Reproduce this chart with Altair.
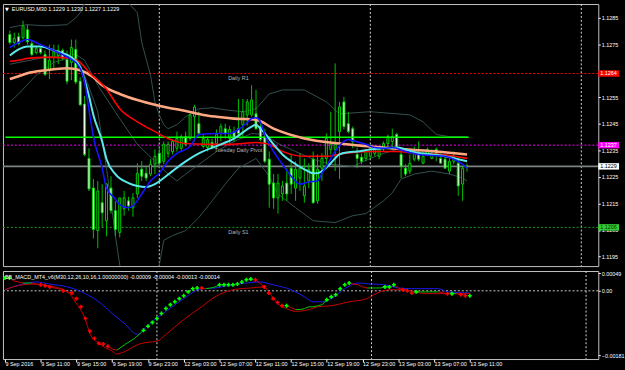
import json
import altair as alt
import pandas as pd

# ---------------- data ----------------
# EURUSD M30 candles, bar 0 = 9 Sep 2016 07:00, bar 104 = 13 Sep 2016 11:00
bar_open = [1.12787,1.12757,1.12779,1.12775,1.12805,1.12753,1.12719,1.12734,1.12712,1.12652,
            1.12701,1.12708,1.12727,1.12693,1.12682,1.12731,1.12611,1.12525,1.12320,1.12208,
            1.12048,1.12153,1.12085,1.12208,1.12123,1.12041,1.12130,1.12160,1.12134,1.12186,
            1.12279,1.12264,1.12261,1.12298,1.12339,1.12309,1.12339,1.12346,1.12358,1.12358,
            1.12402,1.12395,1.12477,1.12451,1.12365,1.12361,1.12380,1.12376,1.12414,1.12432,
            1.12395,1.12421,1.12432,1.12447,1.12484,1.12484,1.12488,1.12440,1.12402,1.12317,
            1.12227,1.12171,1.12186,1.12227,1.12283,1.12208,1.12246,1.12179,1.12235,1.12317,
            1.12160,1.12283,1.12320,1.12354,1.12354,1.12421,1.12533,1.12451,1.12432,1.12335,
            1.12324,1.12320,1.12328,1.12339,1.12328,1.12358,1.12376,1.12384,1.12410,1.12335,
            1.12283,1.12272,1.12317,1.12335,1.12302,1.12335,1.12320,1.12354,1.12320,1.12317,
            1.12272,1.12309,1.12302,1.12223,1.12290]
bar_high = [1.12802,1.12794,1.12794,1.12839,1.12824,1.12764,1.12746,1.12742,1.12727,1.12749,
            1.12749,1.12749,1.12734,1.12727,1.12768,1.12768,1.12626,1.12555,1.12358,1.12242,
            1.12235,1.12223,1.12227,1.12253,1.12160,1.12171,1.12197,1.12175,1.12190,1.12302,
            1.12309,1.12287,1.12317,1.12354,1.12365,1.12384,1.12384,1.12391,1.12421,1.12410,
            1.12421,1.12488,1.12522,1.12496,1.12410,1.12402,1.12395,1.12429,1.12451,1.12451,
            1.12443,1.12440,1.12544,1.12544,1.12544,1.12596,1.12578,1.12458,1.12432,1.12346,
            1.12261,1.12261,1.12235,1.12283,1.12335,1.12309,1.12339,1.12320,1.12302,1.12346,
            1.12335,1.12339,1.12414,1.12496,1.12678,1.12533,1.12552,1.12496,1.12440,1.12361,
            1.12339,1.12354,1.12373,1.12365,1.12361,1.12384,1.12410,1.12432,1.12417,1.12346,
            1.12298,1.12335,1.12365,1.12384,1.12346,1.12361,1.12354,1.12361,1.12339,1.12335,
            1.12320,1.12346,1.12320,1.12290,1.12300]
bar_low = [1.12749,1.12738,1.12746,1.12768,1.12749,1.12705,1.12712,1.12712,1.12630,1.12619,
           1.12660,1.12675,1.12690,1.12600,1.12615,1.12600,1.12518,1.12328,1.12197,1.12018,
           1.11981,1.12059,1.12026,1.12112,1.12026,1.12022,1.12104,1.12123,1.12100,1.12171,
           1.12235,1.12235,1.12253,1.12261,1.12283,1.12298,1.12324,1.12335,1.12346,1.12346,
           1.12365,1.12387,1.12384,1.12406,1.12358,1.12346,1.12354,1.12358,1.12384,1.12395,
           1.12376,1.12384,1.12406,1.12395,1.12443,1.12477,1.12429,1.12384,1.12302,1.12134,
           1.12130,1.12112,1.12160,1.12160,1.12186,1.12160,1.12197,1.12153,1.12208,1.12149,
           1.12149,1.12235,1.12279,1.12335,1.12272,1.12242,1.12429,1.12414,1.12358,1.12283,
           1.12298,1.12309,1.12317,1.12328,1.12317,1.12346,1.12358,1.12354,1.12358,1.12246,
           1.12253,1.12261,1.12309,1.12309,1.12298,1.12328,1.12317,1.12309,1.12302,1.12283,
           1.12261,1.12298,1.12179,1.12160,1.12270]
bar_close = [1.12757,1.12772,1.12753,1.12820,1.12760,1.12712,1.12734,1.12719,1.12637,1.12690,
             1.12723,1.12727,1.12697,1.12611,1.12738,1.12608,1.12522,1.12335,1.12205,1.12052,
             1.12197,1.12115,1.12223,1.12123,1.12052,1.12171,1.12171,1.12141,1.12171,1.12264,
             1.12253,1.12246,1.12298,1.12328,1.12302,1.12373,1.12373,1.12384,1.12395,1.12402,
             1.12373,1.12484,1.12514,1.12414,1.12395,1.12391,1.12361,1.12410,1.12440,1.12414,
             1.12429,1.12395,1.12414,1.12496,1.12533,1.12540,1.12432,1.12391,1.12309,1.12223,
             1.12171,1.12227,1.12216,1.12186,1.12223,1.12279,1.12283,1.12216,1.12279,1.12153,
             1.12279,1.12320,1.12395,1.12373,1.12373,1.12514,1.12440,1.12421,1.12384,1.12320,
             1.12309,1.12346,1.12358,1.12358,1.12354,1.12376,1.12402,1.12402,1.12365,1.12290,
             1.12261,1.12302,1.12339,1.12317,1.12328,1.12354,1.12335,1.12339,1.12302,1.12283,
             1.12309,1.12328,1.12216,1.12283,1.12290]

# moving averages (bar index, price)
blue_i = [0,2,4,7,10,14,15,17,18,19,21,22,24,25,27,28,30,32,34,36,38,41,43,47,50,52,54,55,56,57,
          58,60,62,64,66,68,70,71,72,74,76,77,78,81,83,85,87,90,93,96,99,101,103,104]
blue_v = [1.12738,1.12757,1.12768,1.12749,1.12727,1.12693,1.12682,1.12608,1.12503,1.12402,
          1.12283,1.12208,1.12167,1.12145,1.12134,1.12141,1.12186,1.12235,1.12264,1.12309,
          1.12339,1.12365,1.12410,1.12414,1.12414,1.12429,1.12455,1.12470,1.12473,1.12458,
          1.12410,1.12346,1.12298,1.12253,1.12223,1.12231,1.12235,1.12264,1.12290,1.12346,
          1.12384,1.12391,1.12387,1.12373,1.12361,1.12358,1.12361,1.12346,1.12335,1.12331,
          1.12328,1.12317,1.12298,1.12283]
cyan_i = [0,2,4,7,10,14,16,17,18,19,21,22,24,27,29,31,33,35,37,40,43,48,51,55,56,57,58,60,62,64,
          67,69,70,71,73,75,77,79,82,85,88,90,92,96,99,102,104]
cyan_v = [1.12708,1.12731,1.12742,1.12742,1.12727,1.12701,1.12664,1.12615,1.12555,1.12484,
          1.12384,1.12317,1.12261,1.12227,1.12216,1.12212,1.12223,1.12246,1.12272,1.12309,
          1.12339,1.12373,1.12395,1.12440,1.12447,1.12432,1.12414,1.12373,1.12335,1.12309,
          1.12279,1.12264,1.12264,1.12272,1.12302,1.12335,1.12343,1.12346,1.12354,1.12358,
          1.12361,1.12354,1.12343,1.12335,1.12328,1.12317,1.12309]
red_i = [0,2,4,8,10,14,16,18,22,25,29,33,36,40,45,50,53,56,59,61,67,72,76,82,88,92,98,104]
red_v = [1.12686,1.12690,1.12697,1.12701,1.12701,1.12697,1.12682,1.12645,1.12581,1.12507,
         1.12458,1.12421,1.12395,1.12376,1.12373,1.12373,1.12376,1.12380,1.12373,1.12354,
         1.12328,1.12328,1.12339,1.12346,1.12346,1.12339,1.12335,1.12320]
peach_i = [0,2,4,8,13,16,19,21,25,29,33,36,40,44,47,51,56,60,67,75,82,90,97,104]
peach_v = [1.12619,1.12630,1.12641,1.12652,1.12660,1.12652,1.12626,1.12596,1.12563,1.12540,
           1.12522,1.12511,1.12499,1.12484,1.12477,1.12470,1.12466,1.12432,1.12395,1.12376,
           1.12365,1.12354,1.12346,1.12335]

# Bollinger bands on price
bb_up_i = [0,2,4,8,13,15,16,17,19,23,26,27,29,30,32,33,34,35,36,38,40,43,46,49,53,56,59,62,67,72,
           74,75,82,88,91,94,97,100,104]
bb_up_v = [1.12813,1.12820,1.12824,1.12820,1.12824,1.12850,1.12869,1.12906,1.12962,1.13018,
           1.12943,1.12906,1.12869,1.12757,1.12634,1.12533,1.12484,1.12447,1.12432,1.12447,
           1.12477,1.12507,1.12511,1.12503,1.12496,1.12507,1.12563,1.12578,1.12578,1.12533,
           1.12503,1.12488,1.12496,1.12488,1.12484,1.12458,1.12410,1.12402,1.12402]
bb_mid_i = [0,8,15,17,20,25,29,33,36,38,40,44,47,51,55,58,61,65,69,73,78,82,85,89,92,97,104]
bb_mid_v = [1.12675,1.12701,1.12712,1.12690,1.12596,1.12470,1.12373,1.12309,1.12261,1.12235,
            1.12261,1.12309,1.12346,1.12384,1.12414,1.12410,1.12376,1.12346,1.12317,1.12298,
            1.12290,1.12320,1.12339,1.12358,1.12346,1.12339,1.12320]
bb_lo_i = [0,2,6,10,14,16,18,20,22,23,24,25,28,31,34,35,37,40,43,46,49,52,56,59,61,65,69,74,78,81,
           85,87,89,92,96,100,103,104]
bb_lo_v = [1.12533,1.12563,1.12634,1.12682,1.12701,1.12675,1.12589,1.12496,1.12283,1.12160,
           1.12029,1.11918,1.11787,1.11787,1.11918,1.12011,1.12029,1.12048,1.12097,1.12160,
           1.12223,1.12283,1.12320,1.12253,1.12186,1.12134,1.12085,1.12078,1.12104,1.12112,
           1.12160,1.12190,1.12242,1.12261,1.12272,1.12261,1.12246,1.12235]

# levels
level_names = ["Daily R1", "Tuesday  Daily Pivot", "Daily S1"]
level_prices = [1.1264, 1.1237, 1.1206]
level_label_bar = 52
bid_price = 1.1229
hline_price = 1.1240
hline_bars = [-1, 104.4]
sep_bars = [34, 82, 130]

tag_prices = [1.1264, 1.1237, 1.1229, 1.1206]
tag_texts = ["1.1264", "1.1237", "1.1229", "1.1206"]

price_ticks = [1.1285, 1.1275, 1.1255, 1.1245, 1.1235, 1.1225, 1.1215, 1.1205, 1.1195]
time_label_bars = [0, 8, 16, 24, 32, 40, 48, 56, 64, 72, 80, 88, 96, 104]
time_labels = ["9 Sep 2016", "9 Sep 11:00", "9 Sep 15:00", "9 Sep 19:00", "9 Sep 23:00",
               "12 Sep 03:00", "12 Sep 07:00", "12 Sep 11:00", "12 Sep 15:00", "12 Sep 19:00",
               "12 Sep 23:00", "13 Sep 03:00", "13 Sep 07:00", "13 Sep 11:00"]

main_title = "EURUSD,M30  1.1229 1.1230 1.1227 1.1229"
sub_title = "BB_MACD_MT4_v6(M30,12,26,10,16,1.00000000) -0.00009 -0.00004 -0.00013 -0.00014"

# BB_MACD indicator
macd_v = [0.00036,0.00036,0.00028,0.00025,0.00022,0.00022,0.00022,0.00019,0.00017,0.00014,
          0.00011,0.00008,0.00006,0.00000,-0.00003,-0.00006,-0.00022,-0.00045,-0.00078,-0.00114,
          -0.00134,-0.00148,-0.00150,-0.00156,-0.00164,-0.00167,-0.00159,-0.00150,-0.00142,-0.00134,
          -0.00123,-0.00111,-0.00100,-0.00089,-0.00078,-0.00064,-0.00050,-0.00039,-0.00031,-0.00022,
          -0.00014,-0.00003,0.00006,0.00008,0.00008,0.00006,0.00008,0.00011,0.00017,0.00017,
          0.00017,0.00017,0.00019,0.00025,0.00031,0.00033,0.00031,0.00022,0.00011,-0.00006,
          -0.00022,-0.00033,-0.00042,-0.00042,-0.00047,-0.00053,-0.00053,-0.00050,-0.00045,-0.00045,
          -0.00042,-0.00039,-0.00025,-0.00017,-0.00011,0.00006,0.00017,0.00022,0.00019,0.00017,
          0.00011,0.00008,0.00008,0.00008,0.00008,0.00011,0.00011,0.00017,0.00008,0.00003,
          0.00000,-0.00006,-0.00003,-0.00003,-0.00003,-0.00003,-0.00003,-0.00003,-0.00006,-0.00008,
          -0.00008,-0.00008,-0.00011,-0.00014,-0.00014]
macd_mark = ("gg......rr" "r..r.rrrrr" "rrrr......" ".ggggggggg" "ggggr...gg"
             "ggggggr.rr" "rrrg......" "..gggggg.." ".....ggg.r" "rrg......r" "g.rrg")
bbu_i = [0,4,7,10,14,18,21,24,27,29,30,31,33,36,40,44,47,51,54,57,60,64,67,69,71,73,76,79,82,85,
         88,91,97,99,104]
bbu_v = [0.00003,0.00019,0.00025,0.00019,0.00011,-0.00008,-0.00031,-0.00064,-0.00095,-0.00120,
         -0.00123,-0.00109,-0.00086,-0.00058,-0.00022,0.00006,0.00008,0.00017,0.00022,0.00025,
         0.00017,0.00003,-0.00017,-0.00031,-0.00031,-0.00022,0.00006,0.00022,0.00019,0.00017,
         0.00008,0.00006,0.00006,-0.00003,-0.00006]
bbl_i = [0,4,7,10,14,16,18,19,21,24,25,27,30,32,34,36,40,44,47,51,55,58,59,61,63,65,68,70,73,77,
         81,83,86,89,94,99,104]
bbl_v = [0.00003,0.00017,0.00019,0.00014,-0.00003,-0.00036,-0.00081,-0.00120,-0.00148,-0.00170,
         -0.00178,-0.00170,-0.00150,-0.00145,-0.00142,-0.00123,-0.00081,-0.00045,-0.00017,0.00003,
         0.00008,0.00011,-0.00003,-0.00036,-0.00050,-0.00058,-0.00053,-0.00045,-0.00042,-0.00031,
         -0.00022,-0.00008,0.00003,0.00003,-0.00008,-0.00008,-0.00008]
macd_ticks = [0.00049, 0.0, -0.00181]

# ---------------- styling / scales ----------------
FONT = "Liberation Sans"
FS = 5.5
W, H_MAIN, H_SUB = 602, 265, 89
X_SCALE = alt.Scale(domain=[-0.442, 132.74], nice=False, zero=False)
P_SCALE = alt.Scale(domain=[1.11914, 1.12902], nice=False, zero=False)
M_SCALE = alt.Scale(domain=[-0.001922, 0.000557], nice=False, zero=False)

P_AXIS = alt.Axis(orient="right", values=price_ticks, format=".4f", title=None, grid=False,
                  domain=False, tickSize=2, tickColor="#ffffff", labelColor="#ffffff",
                  labelFont=FONT, labelFontSize=FS, labelPadding=1)
M_AXIS = alt.Axis(orient="right", values=macd_ticks, title=None, grid=False, domain=False,
                  labelExpr="datum.value == 0 ? '0.00' : format(datum.value, '.5f')",
                  tickSize=2, tickColor="#ffffff", labelColor="#ffffff",
                  labelFont=FONT, labelFontSize=FS, labelPadding=1)
T_AXIS = alt.Axis(values=time_label_bars, title=None, grid=False, domain=False,
                  labelExpr=json.dumps(time_labels) + "[round(datum.value / 8)]",
                  labelAlign="left", labelBaseline="top", labelPadding=0, tickSize=3,
                  tickColor="#ffffff", labelColor="#ffffff", labelFont=FONT,
                  labelFontSize=FS, labelOverlap=False, labelFlush=False, labelBound=False)


def XM(field="i"):
    return alt.X(f"{field}:Q", scale=X_SCALE, axis=None)


def XS(field="i"):
    return alt.X(f"{field}:Q", scale=X_SCALE, axis=T_AXIS)


def PY(field):
    return alt.Y(f"{field}:Q", scale=P_SCALE, axis=P_AXIS)


def MY(field):
    return alt.Y(f"{field}:Q", scale=M_SCALE, axis=M_AXIS)


candles = pd.DataFrame({"i": list(range(len(bar_open))), "open": bar_open, "high": bar_high,
                        "low": bar_low, "close": bar_close})


def line_df(ii, vv):
    return pd.DataFrame({"i": ii, "v": vv})


# ---------------- main panel ----------------
seps = alt.Chart(pd.DataFrame({"i": sep_bars})).mark_rule(
    color="#d8d8d8", strokeDash=[2, 2], strokeWidth=1, clip=True).encode(x=XM())

lv = pd.DataFrame({"name": level_names, "p": level_prices, "i": [level_label_bar] * 3})
level_colors = ["#ff0000", "#ff00ff", "#1e9a1e"]
level_rules = [
    alt.Chart(lv.iloc[[k]]).mark_rule(color=col, strokeDash=[2, 2], strokeWidth=1).encode(y=PY("p"))
    for k, col in enumerate(level_colors)
]
bid = alt.Chart(pd.DataFrame({"p": [bid_price]})).mark_rule(
    color="#7c8484", strokeWidth=1.6).encode(y=PY("p"))

bb_layers = [
    alt.Chart(line_df(a, b)).mark_line(color="#35504f", strokeWidth=1, clip=True).encode(
        x=XM(), y=PY("v"))
    for a, b in [(bb_up_i, bb_up_v), (bb_mid_i, bb_mid_v), (bb_lo_i, bb_lo_v)]
]

wicks = alt.Chart(candles).mark_rule(color="#00c000", strokeWidth=1, clip=True).encode(
    x=XM(), y=PY("low"), y2="high:Q")
bodies = alt.Chart(candles).mark_bar(size=2, stroke="#00d000", strokeWidth=1, clip=True).encode(
    x=XM(), y=PY("open"), y2="close:Q",
    fill=alt.condition("datum.close >= datum.open", alt.value("#000000"), alt.value("#ffffff")))

hline = alt.Chart(pd.DataFrame({"i": [hline_bars[0]], "i2": [hline_bars[1]], "p": [hline_price]})).mark_rule(
    color="#00ff00", strokeWidth=1.5, clip=True).encode(x=XM(), x2="i2:Q", y=PY("p"))

peach = alt.Chart(line_df(peach_i, peach_v)).mark_line(color="#ffa882", strokeWidth=2.6, clip=True,
                                                       interpolate="monotone").encode(x=XM(), y=PY("v"))
red = alt.Chart(line_df(red_i, red_v)).mark_line(color="#ff0000", strokeWidth=1.6, clip=True,
                                                 interpolate="monotone").encode(x=XM(), y=PY("v"))
cyan = alt.Chart(line_df(cyan_i, cyan_v)).mark_line(color="#5ce8e8", strokeWidth=2, clip=True,
                                                    interpolate="monotone").encode(x=XM(), y=PY("v"))
blue = alt.Chart(line_df(blue_i, blue_v)).mark_line(color="#1414ff", strokeWidth=1.6, clip=True,
                                                    interpolate="monotone").encode(x=XM(), y=PY("v"))

level_text = alt.Chart(lv).mark_text(align="center", baseline="middle", dy=5, color="#b4b4b4",
                                     font=FONT, fontSize=FS).encode(x=XM(), y=PY("p"), text="name:N")

title_tri = alt.Chart(pd.DataFrame({"t": ["\u25bc"]})).mark_text(
    align="left", baseline="middle", color="#ffffff", font="DejaVu Sans", fontSize=5).encode(
    x=alt.value(2), y=alt.value(5), text="t:N")
title_txt = alt.Chart(pd.DataFrame({"t": [main_title]})).mark_text(
    align="left", baseline="middle", color="#ffffff", font=FONT, fontSize=FS).encode(
    x=alt.value(9), y=alt.value(5), text="t:N")

tag_bg = ["#ff0000", "#ff00ff", "#ffffff", "#33cc33"]
tag_fg = ["#ffffff", "#ffffff", "#000000", "#003300"]
tags = pd.DataFrame({"p": tag_prices, "t": tag_texts, "bg": tag_bg, "fg": tag_fg})
tag_box = alt.Chart(tags).mark_point(
    shape="M -1 -0.31 L 1 -0.31 L 1 0.31 L -1 0.31 Z", size=441, filled=True, opacity=1,
    strokeWidth=0).encode(x=alt.value(612.5), y=PY("p"), color=alt.Color("bg:N", scale=None))
tag_txt = alt.Chart(tags).mark_text(align="left", baseline="middle", font=FONT, fontSize=FS).encode(
    x=alt.value(604), y=PY("p"), text="t:N", color=alt.Color("fg:N", scale=None))

main = alt.layer(
    seps, *level_rules, bid, *bb_layers, wicks, bodies, hline, peach, red, cyan, blue,
    level_text, title_tri, title_txt, tag_box, tag_txt
).properties(width=W, height=H_MAIN)

# ---------------- indicator panel ----------------
mdf = pd.DataFrame({"i": list(range(len(macd_v))), "v": macd_v, "m": list(macd_mark)})
seg_rows = []
for k in range(len(macd_v) - 1):
    if macd_mark[k] == "." or macd_mark[k + 1] == ".":
        col = "#00c800" if macd_v[k + 1] >= macd_v[k] else "#d00000"
        seg_rows.append({"seg": k, "i": k, "v": macd_v[k], "col": col})
        seg_rows.append({"seg": k, "i": k + 1, "v": macd_v[k + 1], "col": col})
segs = pd.DataFrame(seg_rows)

sseps = alt.Chart(pd.DataFrame({"i": sep_bars})).mark_rule(
    color="#d8d8d8", strokeDash=[2, 2], strokeWidth=1, clip=True).encode(x=XS())
zero = alt.Chart(pd.DataFrame({"v": [0.0]})).mark_rule(
    color="#c8c8c8", strokeDash=[2, 2], strokeWidth=1).encode(y=MY("v"))
ublue = alt.Chart(line_df(bbu_i, bbu_v)).mark_line(color="#1a1aee", strokeWidth=1, clip=True,
                                                   interpolate="monotone").encode(x=XS(), y=MY("v"))
lred = alt.Chart(line_df(bbl_i, bbl_v)).mark_line(color="#c80000", strokeWidth=1, clip=True,
                                                  interpolate="monotone").encode(x=XS(), y=MY("v"))
mline = alt.Chart(segs).mark_line(strokeWidth=1, clip=True).encode(
    x=XS(), y=MY("v"), detail="seg:N", color=alt.Color("col:N", scale=None))
marks = alt.Chart(mdf).transform_filter("datum.m != '.'").mark_point(
    shape="cross", size=16, filled=True, opacity=1, clip=True).encode(
    x=XS(), y=MY("v"),
    color=alt.Color("m:N", scale=alt.Scale(domain=["g", "r"], range=["#00ff00", "#ff0000"]), legend=None))
sub_txt = alt.Chart(pd.DataFrame({"t": [sub_title]})).mark_text(
    align="left", baseline="middle", color="#ffffff", font=FONT, fontSize=FS).encode(
    x=alt.value(2), y=alt.value(6), text="t:N")

sub = alt.layer(sseps, zero, ublue, lred, mline, marks, sub_txt).properties(width=W, height=H_SUB)

chart = alt.vconcat(main, sub, spacing=3).configure(
    background="#000000",
    padding={"left": 1, "top": 1, "right": 0, "bottom": 0},
    font=FONT,
).configure_view(stroke="#c4c4c4", strokeWidth=1)

chart.save("out.html", embed_options={"renderer": "svg", "actions": False})
